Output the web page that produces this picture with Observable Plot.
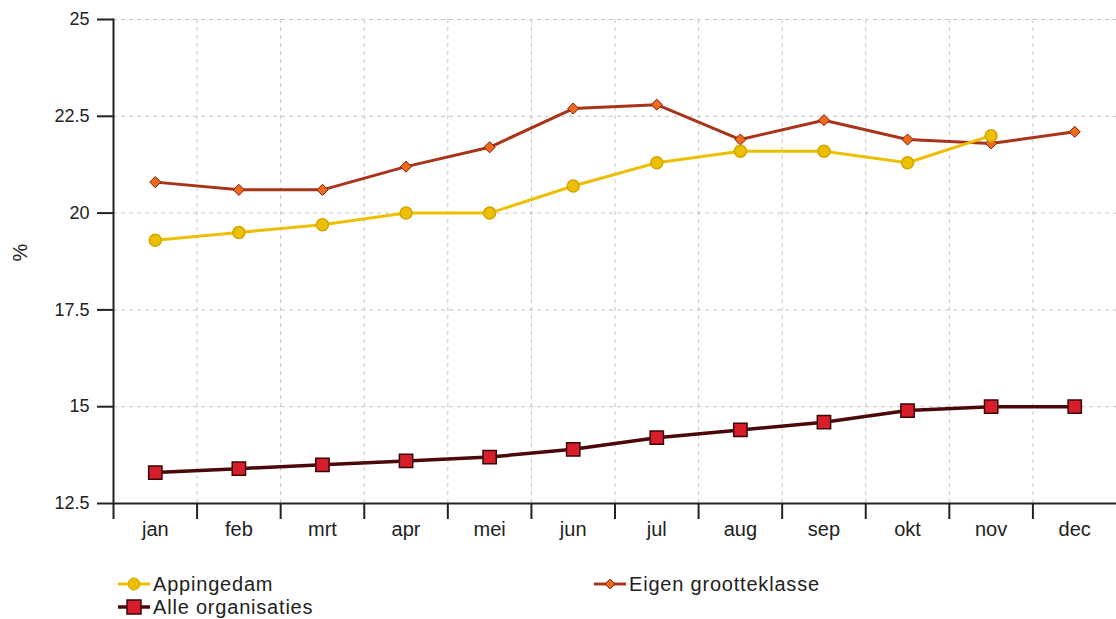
<!DOCTYPE html>
<html>
<head>
<meta charset="utf-8">
<script src="https://cdn.jsdelivr.net/npm/d3@7"></script>
<script src="https://cdn.jsdelivr.net/npm/@observablehq/plot@0.6"></script>
<style>
  html, body { margin: 0; padding: 0; background: #fff; }
  body { width: 1116px; height: 619px; position: relative; overflow: hidden; font-family: "Liberation Sans", Arial, sans-serif; }
  #chart { position: absolute; left: 0; top: 0; }
  .leg { position: absolute; display: flex; align-items: center; font-size: 20px; letter-spacing: 0.8px; color: #222; line-height: 22px; }
  .leg svg { margin-right: 2px; }
</style>
</head>
<body>
<div id="chart"></div>
<div class="leg" style="left:117px; top:573px;"><svg width="34" height="22"></svg><span>Appingedam</span></div>
<div class="leg" style="left:117px; top:596px;"><svg width="34" height="22"></svg><span>Alle organisaties</span></div>
<div class="leg" style="left:593px; top:573px;"><svg width="34" height="22"></svg><span>Eigen grootteklasse</span></div>
<script>
const months = ["jan","feb","mrt","apr","mei","jun","jul","aug","sep","okt","nov","dec"];
const appingedam = [19.3, 19.5, 19.7, 20.0, 20.0, 20.7, 21.3, 21.6, 21.6, 21.3, 22.0, null];
const eigenGrootteklasse = [20.8, 20.6, 20.6, 21.2, 21.7, 22.7, 22.8, 21.9, 22.4, 21.9, 21.8, 22.1];
const alleOrganisaties = [13.3, 13.4, 13.5, 13.6, 13.7, 13.9, 14.2, 14.4, 14.6, 14.9, 15.0, 15.0];
const yTicks = [12.5, 15, 17.5, 20, 22.5, 25];
const seriesNames = ["Appingedam", "Alle organisaties", "Eigen grootteklasse"];

const toRows = (vals) => months.map((m, i) => ({month: m, value: vals[i]}));
const dA = toRows(appingedam);
const dE = toRows(eigenGrootteklasse);
const dO = toRows(alleOrganisaties);

const W = 1116, H = 550, ML = 113, MR = 0, MT = 19, MB = 47;
const bw = (W - ML - MR) / months.length;

const colA = "#ecc000", colAstroke = "#d4a400";
const colEline = "#a8341a", colEdot = "#f06a1c";
const colOline = "#4a0808", colOdot = "#d81e2a";

const chart = Plot.plot({
  width: W, height: H,
  marginLeft: ML, marginRight: MR, marginTop: MT, marginBottom: MB,
  style: {fontFamily: "'Liberation Sans', Arial, sans-serif", fontSize: "18px", background: "#fff", overflow: "visible"},
  x: {type: "band", domain: months, padding: 0, round: false, label: null},
  y: {domain: [12.5, 25], label: null},
  marks: [
    Plot.gridY({ticks: yTicks, stroke: "#c4c4c4", strokeOpacity: 1, strokeDasharray: "4,4"}),
    Plot.gridX({ticks: months, dx: -bw / 2, stroke: "#c4c4c4", strokeOpacity: 1, strokeDasharray: "4,4"}),
    Plot.axisY({ticks: yTicks, tickFormat: d => String(d), tickSize: 16, tickPadding: 8, fontSize: 18, label: null, color: "#222", strokeWidth: 2}),
    Plot.axisX({ticks: months, tickSize: 16, tickFormat: () => "", dx: -bw / 2, label: null, strokeWidth: 2, color: "#222"}),
    Plot.axisX({ticks: months, tickSize: 0, tickPadding: 18, fontSize: 20, label: null, color: "#222"}),
    Plot.frame({anchor: "left", stroke: "#222", strokeWidth: 2}),
    Plot.ruleY([12.5], {stroke: "#222", strokeWidth: 2}),
    Plot.lineY(dE, {x: "month", y: "value", stroke: colEline, strokeWidth: 3}),
    Plot.dot(dE, {x: "month", y: "value", symbol: "diamond2", r: 5, fill: colEdot, stroke: "#7a2010", strokeWidth: 1}),
    Plot.lineY(dA, {x: "month", y: "value", stroke: colA, strokeWidth: 3}),
    Plot.dot(dA, {x: "month", y: "value", r: 6, fill: colA, stroke: colAstroke, strokeWidth: 1.5}),
    Plot.lineY(dO, {x: "month", y: "value", stroke: colOline, strokeWidth: 3.5}),
    Plot.dot(dO, {x: "month", y: "value", symbol: "square", r: 7.5, fill: colOdot, stroke: "#3a0606", strokeWidth: 1.5}),
    Plot.text(["%"], {frameAnchor: "left", dx: -93, rotate: -90, fontSize: 20, fill: "#222"})
  ]
});
document.getElementById("chart").appendChild(chart);

// legend swatches
const sw = document.querySelectorAll(".leg svg");
const swatch = (svgEl, lineCol, lw, drawMarker) => {
  const s = d3.select(svgEl);
  s.append("line").attr("x1", 1).attr("x2", 33).attr("y1", 11).attr("y2", 11).attr("stroke", lineCol).attr("stroke-width", lw);
  drawMarker(s);
};
swatch(sw[0], colA, 3, s => s.append("circle").attr("cx", 17).attr("cy", 11).attr("r", 6).attr("fill", colA).attr("stroke", colAstroke));
swatch(sw[1], colOline, 3.5, s => s.append("rect").attr("x", 10).attr("y", 4).attr("width", 14).attr("height", 14).attr("fill", colOdot).attr("stroke", "#3a0606").attr("stroke-width", 1.5));
swatch(sw[2], colEline, 3, s => s.append("path").attr("d", d3.symbol(d3.symbolDiamond2, 60)()).attr("transform", "translate(17,11)").attr("fill", colEdot).attr("stroke", "#7a2010"));
</script>
</body>
</html>
